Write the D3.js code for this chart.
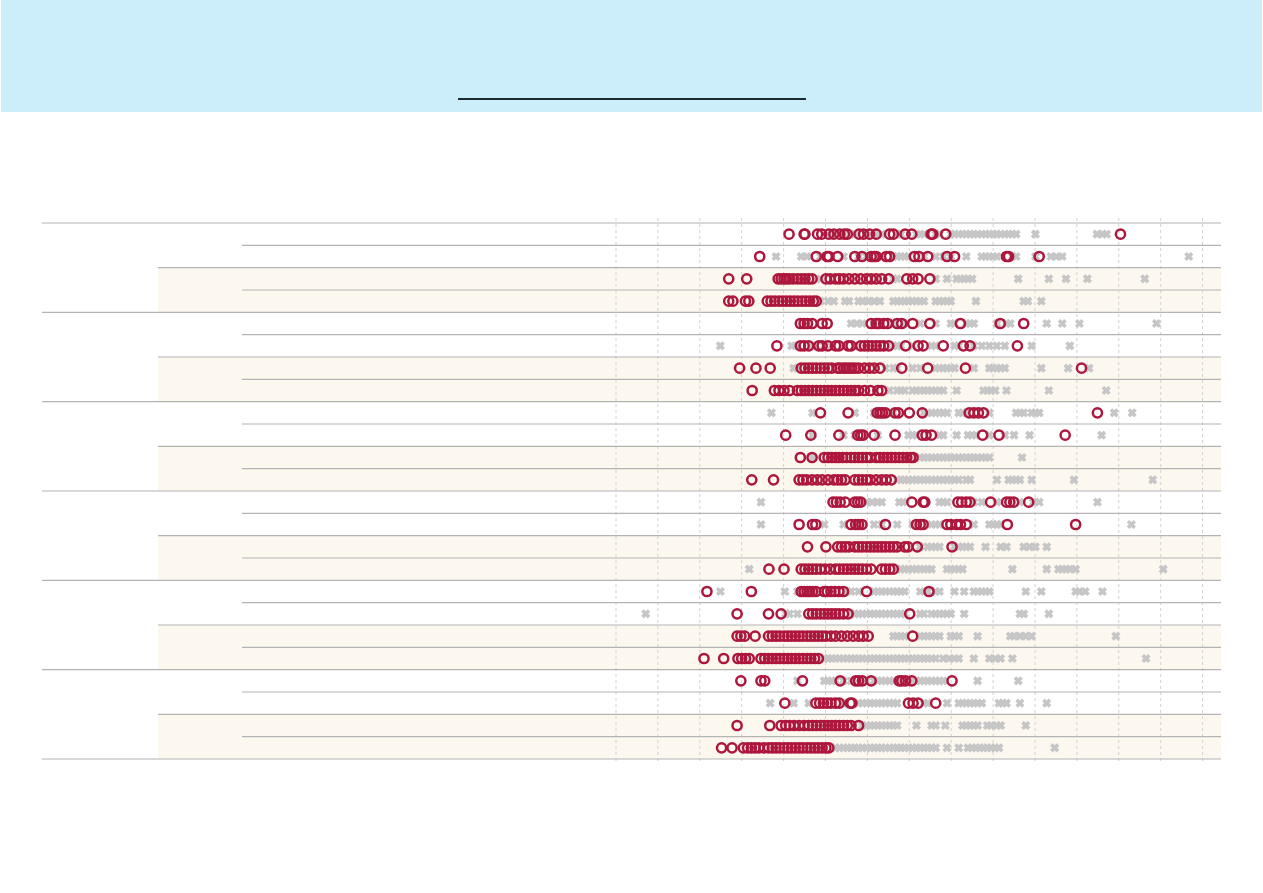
<!DOCTYPE html>
<html>
<head>
<meta charset="utf-8">
<script src="https://cdn.jsdelivr.net/npm/d3@7"></script>
<style>
  html, body { margin: 0; padding: 0; background: #ffffff; }
  svg { display: block; }
</style>
</head>
<body>
<svg id="chart" width="1263" height="893"></svg>
<script>
// ---------- DATA ----------
const tickValues = [0,1,2,3,4,5,6,7,8,9,10,11,12,13,14];
const groupIds = ["g1","g2","g3","g4","g5","g6"];
const subgroupIds = ["a","b"];
const rowIds = d3.range(24).map(i => "r" + (i + 1));

const greyCrosses = [
  [5.15,5.43,5.70,5.98,6.25,6.34,6.71,6.80,7.17,7.26,7.35,7.63,7.72,7.99,8.08,8.18,8.27,8.36,8.45,8.54,8.63,8.73,8.82,8.91,9.00,9.09,9.18,9.28,9.37,9.46,9.55,10.01,11.48,11.61,11.71],
  [3.82,4.42,4.56,4.88,5.43,5.79,5.98,6.34,6.62,6.71,6.80,6.89,6.98,7.35,7.63,7.81,7.99,8.36,8.73,8.82,8.91,9.00,9.09,9.46,9.55,10.01,10.38,10.51,10.65,13.67],
  [4.20,4.35,4.50,4.88,6.62,6.71,7.63,7.90,8.13,8.22,8.31,8.40,8.50,9.60,10.33,10.74,11.25,12.62],
  [4.88,5.06,5.20,5.47,5.56,5.79,5.88,6.02,6.16,6.30,6.62,6.71,6.80,6.89,6.98,7.08,7.17,7.26,7.35,7.63,7.72,7.81,7.90,7.99,8.59,9.73,9.83,10.15],
  [5.61,5.75,5.88,6.16,6.62,6.89,7.26,7.63,7.99,8.08,8.36,8.45,8.54,9.09,9.32,9.41,10.28,10.65,11.06,12.90],
  [2.49,4.19,4.33,4.69,4.97,5.15,5.43,5.70,6.62,6.71,6.80,7.08,7.53,7.63,8.08,8.18,8.54,8.73,8.91,9.09,9.28,9.92,10.83],
  [4.24,4.33,6.43,6.62,6.71,7.08,7.26,7.63,7.72,7.81,7.90,7.99,8.08,8.54,8.91,9.00,9.09,9.18,9.28,10.15,10.79,11.29],
  [6.53,6.71,6.80,6.89,7.08,7.17,7.26,7.35,7.44,7.53,7.63,7.72,7.81,8.13,8.77,8.86,8.95,9.05,9.32,10.33,11.70],
  [3.71,4.69,5.70,6.16,6.62,7.35,7.44,7.53,7.63,7.72,7.81,7.90,8.18,8.27,8.36,8.91,9.55,9.64,9.73,9.92,10.01,10.10,11.89,12.32],
  [4.69,5.43,5.70,6.25,6.98,7.08,7.17,7.72,7.81,8.13,8.40,8.50,8.59,8.91,9.28,9.50,9.87,11.59],
  [4.69,7.26,7.35,7.44,7.53,7.63,7.72,7.81,7.90,7.99,8.08,8.18,8.27,8.36,8.45,8.54,8.63,8.73,8.82,8.91,9.69],
  [6.71,6.80,6.89,6.98,7.08,7.17,7.26,7.35,7.44,7.53,7.63,7.72,7.81,7.90,7.99,8.08,8.18,8.36,8.45,9.09,9.37,9.46,9.55,9.64,9.92,10.93,12.81],
  [3.46,5.98,6.11,6.25,6.34,6.76,6.85,7.72,7.81,7.90,8.54,8.73,9.09,9.64,9.96,10.10,11.49],
  [3.46,4.97,5.43,6.16,6.34,6.71,7.08,7.53,7.63,7.72,8.54,8.91,9.00,9.09,9.18,12.30],
  [7.26,7.44,7.53,7.63,7.72,8.08,8.18,8.27,8.36,8.45,8.82,9.18,9.32,9.73,9.87,10.01,10.28],
  [3.18,6.71,6.80,6.89,6.98,7.08,7.17,7.26,7.35,7.44,7.53,7.90,7.99,8.08,8.18,8.27,9.46,10.28,10.56,10.65,10.74,10.83,10.97,13.06],
  [2.49,4.03,4.33,5.52,5.61,5.79,6.16,6.25,6.34,6.43,6.53,6.62,6.71,6.80,6.89,7.26,7.44,7.63,7.72,8.08,8.31,8.54,8.63,8.73,8.82,8.91,9.78,10.15,10.97,11.06,11.20,11.61],
  [0.71,4.05,4.14,4.33,5.61,5.70,5.79,5.88,5.98,6.07,6.16,6.25,6.34,6.43,6.53,6.62,6.71,6.80,6.89,7.26,7.35,7.53,7.63,7.72,7.81,7.90,7.99,8.31,9.64,9.73,10.33],
  [6.62,6.71,6.80,6.89,7.26,7.35,7.44,7.53,7.63,7.72,7.99,8.08,8.18,8.63,9.41,9.50,9.64,9.78,9.92,11.93],
  [4.97,5.06,5.15,5.24,5.33,5.43,5.52,5.61,5.70,5.79,5.88,5.98,6.07,6.16,6.25,6.34,6.43,6.53,6.62,6.71,6.80,6.89,6.98,7.08,7.17,7.26,7.35,7.44,7.53,7.63,7.81,7.95,8.08,8.18,8.54,8.91,9.05,9.18,9.46,12.65],
  [4.33,4.97,5.06,5.15,5.24,5.43,5.61,5.98,6.16,6.25,6.34,6.43,6.53,6.62,6.71,7.08,7.17,7.26,7.35,7.44,7.53,7.63,7.72,7.81,8.63,9.60],
  [3.68,4.24,4.60,5.43,5.79,5.88,5.98,6.07,6.16,6.25,6.34,6.43,6.53,6.62,6.71,7.35,7.44,7.90,8.18,8.27,8.36,8.45,8.54,8.63,8.73,9.14,9.23,9.32,9.64,10.28],
  [5.88,5.98,6.07,6.16,6.25,6.34,6.43,6.53,6.62,6.71,7.17,7.53,7.63,7.86,8.27,8.36,8.45,8.54,8.63,8.86,8.95,9.09,9.18,9.78],
  [5.24,5.33,5.43,5.52,5.61,5.70,5.79,5.88,5.98,6.07,6.16,6.25,6.34,6.43,6.53,6.62,6.71,6.80,6.89,6.98,7.08,7.17,7.26,7.35,7.44,7.53,7.63,7.90,8.18,8.40,8.50,8.59,8.68,8.77,8.86,8.95,9.05,9.14,10.47]
];

const redCircles = [
  [4.13,4.49,4.51,4.81,4.91,5.08,5.20,5.34,5.45,5.52,5.80,5.91,6.05,6.21,6.53,6.62,6.90,7.06,7.52,7.56,7.87,12.04],
  [3.43,4.78,5.04,5.08,5.29,5.70,5.87,6.09,6.16,6.21,6.45,6.53,7.12,7.23,7.44,7.90,8.08,9.32,9.37,10.10],
  [2.69,3.12,3.87,3.94,4.01,4.07,4.14,4.23,4.33,4.42,4.51,4.60,4.68,5.01,5.11,5.24,5.33,5.43,5.56,5.70,5.84,5.98,6.09,6.21,6.34,6.51,6.94,7.08,7.21,7.49],
  [2.69,2.79,3.09,3.17,3.61,3.70,3.79,3.89,3.98,4.07,4.16,4.25,4.34,4.44,4.53,4.62,4.71,4.78],
  [4.40,4.49,4.57,4.68,4.92,5.04,6.09,6.21,6.27,6.39,6.48,6.71,6.82,7.08,7.49,8.22,9.17,9.73],
  [3.84,4.40,4.49,4.60,4.84,4.92,5.06,5.24,5.32,5.54,5.61,5.84,5.93,6.02,6.11,6.21,6.30,6.39,6.51,6.91,7.21,7.33,7.81,8.29,8.45,9.58],
  [2.95,3.34,3.68,4.42,4.51,4.60,4.69,4.78,4.88,4.97,5.06,5.15,5.29,5.35,5.43,5.49,5.56,5.63,5.70,5.79,5.93,6.05,6.16,6.30,6.82,7.44,8.34,11.11],
  [3.25,3.78,3.89,4.01,4.14,4.33,4.42,4.51,4.60,4.69,4.78,4.88,4.97,5.06,5.15,5.24,5.33,5.43,5.52,5.61,5.70,5.79,5.93,6.07,6.25,6.34],
  [4.88,5.54,6.23,6.30,6.36,6.43,6.66,6.74,7.00,7.31,8.43,8.54,8.65,8.77,11.49],
  [4.05,4.65,5.32,5.77,5.84,5.90,6.16,6.66,7.31,7.40,7.53,8.75,9.14,10.72],
  [4.40,4.68,4.97,5.06,5.15,5.24,5.32,5.41,5.50,5.61,5.70,5.79,5.88,5.98,6.07,6.21,6.30,6.39,6.48,6.57,6.66,6.76,6.85,6.94,7.03,7.09],
  [3.24,3.76,4.37,4.46,4.55,4.68,4.80,4.92,5.06,5.20,5.29,5.38,5.47,5.70,5.79,5.88,5.98,6.07,6.21,6.34,6.45,6.57],
  [5.18,5.26,5.35,5.47,5.70,5.77,5.84,7.06,7.33,7.37,8.16,8.25,8.36,8.45,8.94,9.32,9.40,9.49,9.85],
  [4.37,4.69,4.77,5.61,5.72,5.79,5.87,6.43,7.17,7.26,7.33,7.90,7.99,8.13,8.22,8.36,9.34,10.97],
  [4.57,5.01,5.29,5.38,5.47,5.56,5.70,5.79,5.88,5.98,6.07,6.16,6.25,6.34,6.43,6.53,6.62,6.71,6.89,6.97,7.19,8.02],
  [3.65,4.01,4.42,4.51,4.60,4.69,4.78,4.88,4.99,5.11,5.24,5.33,5.43,5.52,5.61,5.70,5.79,5.88,5.98,6.09,6.34,6.43,6.53,6.62],
  [2.17,3.23,4.42,4.49,4.56,4.62,4.69,4.77,4.97,5.04,5.13,5.22,5.32,5.43,5.98,7.47],
  [2.89,3.64,3.94,4.60,4.69,4.78,4.88,4.97,5.06,5.15,5.24,5.33,5.43,5.54,7.01],
  [2.89,2.98,3.07,3.32,3.64,3.73,3.82,3.91,4.01,4.10,4.19,4.28,4.37,4.46,4.56,4.65,4.74,4.83,4.92,5.01,5.13,5.24,5.38,5.52,5.66,5.79,5.90,6.02,7.08],
  [2.10,2.57,2.91,3.00,3.09,3.18,3.46,3.55,3.64,3.73,3.82,3.91,4.01,4.10,4.19,4.28,4.37,4.46,4.56,4.65,4.74,4.83],
  [2.98,3.46,3.55,4.45,5.35,5.72,5.79,5.88,6.09,6.76,6.82,6.91,7.06,8.02],
  [4.03,4.77,4.86,4.95,5.04,5.13,5.24,5.33,5.59,5.63,6.98,7.09,7.21,7.63],
  [2.89,3.67,3.94,4.05,4.14,4.25,4.37,4.49,4.60,4.69,4.78,4.88,4.97,5.06,5.15,5.24,5.33,5.43,5.52,5.61,5.79],
  [2.52,2.77,3.04,3.14,3.23,3.32,3.41,3.53,3.64,3.73,3.82,3.91,4.01,4.10,4.19,4.28,4.37,4.46,4.56,4.65,4.74,4.83,4.92,5.01,5.08]
];

// ---------- LAYOUT ----------
const W = 1263, H = 893;
const headerH = 112;
const tableLeft = 42, subLeft = 158, rowLeft = 242, tableRight = 1221;
const tableTop = 223, tableBottom = 759;

const svg = d3.select("#chart");

// header band
svg.append("rect").attr("x", 1).attr("y", 0).attr("width", W - 2).attr("height", headerH)
  .attr("fill", "#cbeefa");
svg.append("line").attr("x1", 458).attr("x2", 806).attr("y1", 99).attr("y2", 99)
  .attr("stroke", "#1e2a31").attr("stroke-width", 2);

const x = d3.scaleLinear().domain([0, 14]).range([616, 1202.6]);
const y = d3.scaleBand().domain(rowIds).range([tableTop, tableBottom]).padding(0);
const rowH = y.bandwidth();

// beige backgrounds for the second subgroup of each group
const bgG = svg.append("g");
groupIds.forEach((g, gi) => {
  const r0 = rowIds[gi * 4 + 2];
  bgG.append("rect")
    .attr("x", subLeft).attr("width", tableRight - subLeft)
    .attr("y", y(r0)).attr("height", rowH * 2)
    .attr("fill", "#fcf8f0");
});

// dashed vertical gridlines
svg.append("g").selectAll("line").data(tickValues).join("line")
  .attr("x1", d => x(d)).attr("x2", d => x(d))
  .attr("y1", tableTop - 5).attr("y2", tableBottom + 5)
  .attr("stroke", "#d2d2d2").attr("stroke-width", 1)
  .attr("stroke-dasharray", "3,3");

// horizontal rules
const rules = svg.append("g").attr("stroke", "#b4b4b4").attr("stroke-width", 1.2);
rowIds.forEach((r, i) => {
  const yy = y(r);
  let x0 = null;
  if (i % 4 === 0) x0 = tableLeft;
  else if (i % 2 === 0) x0 = subLeft;
  else x0 = rowLeft;
  rules.append("line").attr("x1", x0).attr("x2", tableRight).attr("y1", yy).attr("y2", yy);
});
rules.append("line").attr("x1", tableLeft).attr("x2", tableRight)
  .attr("y1", tableBottom).attr("y2", tableBottom);

// grey crosses
const crossPath = "M-3.3,-3.3L3.3,3.3M3.3,-3.3L-3.3,3.3";
const crossG = svg.append("g");
greyCrosses.forEach((vals, i) => {
  crossG.selectAll(null).data(vals).join("path")
    .attr("d", crossPath)
    .attr("transform", d => `translate(${x(d)},${y(rowIds[i]) + rowH / 2})`)
    .attr("stroke", "#c6c6c6").attr("stroke-width", 3.6).attr("fill", "none");
});

// red circles
const circG = svg.append("g");
redCircles.forEach((vals, i) => {
  circG.selectAll(null).data(vals.slice().sort(d3.ascending)).join("circle")
    .attr("cx", d => x(d))
    .attr("cy", y(rowIds[i]) + rowH / 2)
    .attr("r", 4.6)
    .attr("fill", "none")
    .attr("stroke", "#ad173d").attr("stroke-width", 2.5);
});
</script>
</body>
</html>
